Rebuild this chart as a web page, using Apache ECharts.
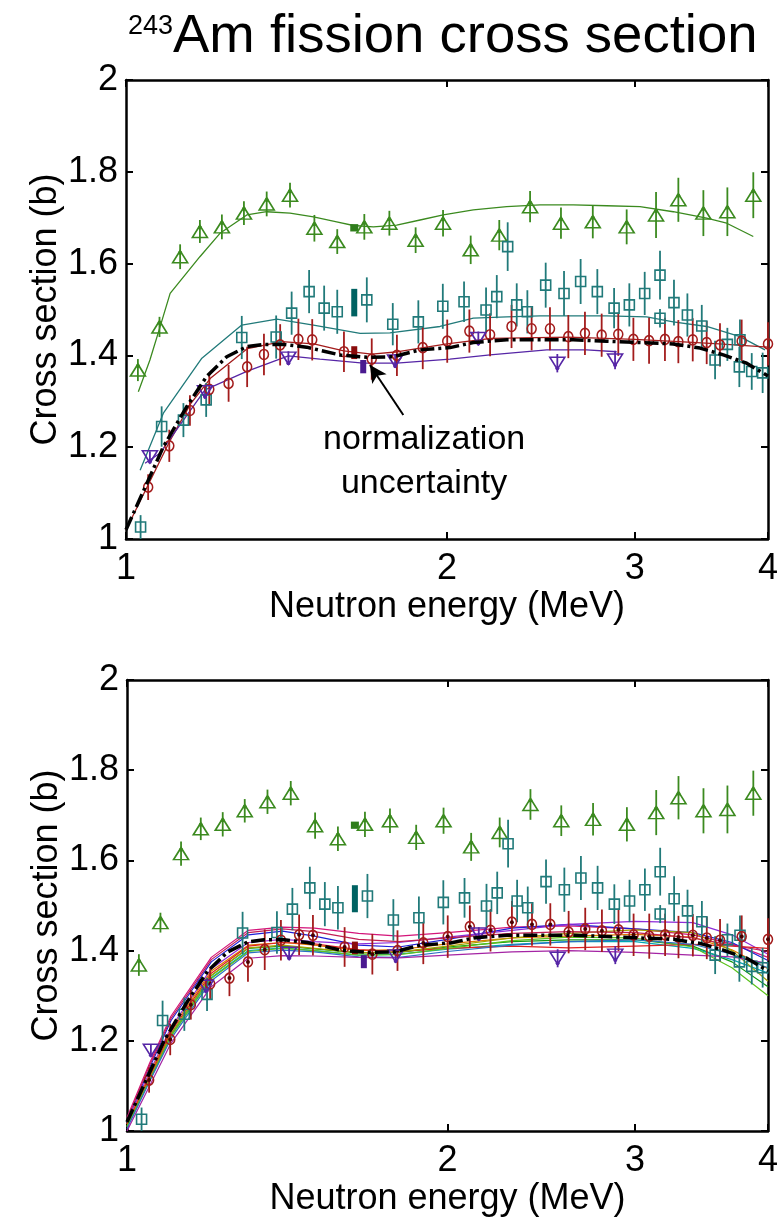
<!DOCTYPE html>
<html><head><meta charset="utf-8">
<script src="https://cdn.jsdelivr.net/npm/echarts@6/dist/echarts.min.js"></script>
<style>html,body{margin:0;padding:0;background:#fff}#chart{width:782px;height:1218px}</style>
</head><body><div id="chart"></div>
<script>
// ---------------- data (energy in MeV, cross section in b) ----------------
const xTickLabels = [1, 2, 3, 4];
const yTickValues = [1, 1.2, 1.4, 1.6, 1.8, 2];

const greenE = [1.026, 1.075, 1.124, 1.173, 1.230, 1.290, 1.355, 1.425, 1.502, 1.578, 1.673, 1.766, 1.869, 1.983, 2.105, 2.239, 2.393, 2.558, 2.740, 2.948, 3.141, 3.296, 3.479, 3.664, 3.875];
const greenY = [1.368, 1.462, 1.615, 1.670, 1.680, 1.710, 1.730, 1.749, 1.677, 1.648, 1.680, 1.688, 1.651, 1.688, 1.630, 1.662, 1.724, 1.688, 1.691, 1.680, 1.706, 1.739, 1.710, 1.713, 1.749];
const greenErr = [0.024, 0.022, 0.027, 0.025, 0.027, 0.026, 0.027, 0.027, 0.029, 0.027, 0.028, 0.027, 0.028, 0.029, 0.031, 0.033, 0.034, 0.034, 0.036, 0.038, 0.050, 0.048, 0.050, 0.053, 0.050];
const greenFitE = [1.027, 1.053, 1.074, 1.100, 1.173, 1.225, 1.298, 1.355, 1.425, 1.499, 1.576, 1.634, 1.706, 1.794, 1.887, 1.984, 2.117, 2.275, 2.445, 2.627, 2.824, 3.034, 3.260, 3.504, 3.659, 3.875];
const greenFitY = [1.321, 1.390, 1.455, 1.535, 1.615, 1.666, 1.706, 1.713, 1.710, 1.702, 1.691, 1.683, 1.680, 1.684, 1.695, 1.706, 1.717, 1.724, 1.728, 1.728, 1.726, 1.724, 1.713, 1.699, 1.688, 1.659];

const tealE = [1.032, 1.080, 1.132, 1.189, 1.284, 1.383, 1.430, 1.485, 1.534, 1.578, 1.682, 1.779, 1.880, 1.982, 2.075, 2.176, 2.227, 2.280, 2.325, 2.379, 2.475, 2.575, 2.669, 2.767, 2.869, 2.965, 3.065, 3.168, 3.168, 3.265, 3.361, 3.467, 3.568, 3.664, 3.760, 3.765, 3.862, 3.954];
const tealY = [1.026, 1.245, 1.259, 1.303, 1.439, 1.440, 1.492, 1.539, 1.503, 1.495, 1.521, 1.468, 1.473, 1.507, 1.517, 1.499, 1.528, 1.637, 1.510, 1.495, 1.553, 1.535, 1.561, 1.539, 1.503, 1.510, 1.535, 1.575, 1.481, 1.515, 1.488, 1.464, 1.390, 1.424, 1.375, 1.434, 1.365, 1.362];
const tealErr = [0.026, 0.044, 0.037, 0.037, 0.047, 0.047, 0.047, 0.047, 0.049, 0.048, 0.049, 0.046, 0.047, 0.049, 0.044, 0.049, 0.047, 0.053, 0.047, 0.047, 0.049, 0.049, 0.049, 0.049, 0.044, 0.047, 0.047, 0.053, 0.020, 0.050, 0.047, 0.046, 0.042, 0.036, 0.044, 0.044, 0.040, 0.044];
const tealFitE = [1.031, 1.084, 1.178, 1.284, 1.385, 1.499, 1.658, 1.768, 1.970, 2.117, 2.275, 2.445, 2.824, 3.078, 3.260, 3.504, 3.765, 3.974];
const tealFitY = [1.150, 1.274, 1.394, 1.466, 1.479, 1.466, 1.448, 1.449, 1.463, 1.481, 1.484, 1.486, 1.486, 1.484, 1.473, 1.463, 1.441, 1.412];

const redE = [1.049, 1.098, 1.148, 1.197, 1.248, 1.299, 1.347, 1.395, 1.451, 1.495, 1.601, 1.700, 1.795, 1.898, 2.001, 2.099, 2.195, 2.299, 2.401, 2.498, 2.599, 2.694, 2.793, 2.895, 2.991, 3.094, 3.202, 3.296, 3.400, 3.504, 3.606, 3.779, 4.000];
const redY = [1.113, 1.203, 1.280, 1.326, 1.339, 1.375, 1.402, 1.423, 1.435, 1.434, 1.408, 1.392, 1.400, 1.417, 1.431, 1.453, 1.445, 1.463, 1.458, 1.458, 1.441, 1.448, 1.444, 1.446, 1.435, 1.432, 1.435, 1.430, 1.434, 1.428, 1.423, 1.431, 1.425];
const redErr = [0.028, 0.035, 0.033, 0.035, 0.040, 0.044, 0.045, 0.045, 0.045, 0.045, 0.044, 0.045, 0.045, 0.047, 0.047, 0.047, 0.047, 0.047, 0.047, 0.047, 0.047, 0.047, 0.047, 0.047, 0.047, 0.050, 0.047, 0.047, 0.047, 0.047, 0.047, 0.047, 0.047];
const redFitE = [1.0, 1.05, 1.1, 1.15, 1.2, 1.3, 1.4, 1.5, 1.6, 1.7, 1.8, 2.0, 2.2, 2.6, 3.0, 3.3, 3.6, 4.0];
const redFitY = [1.02, 1.12, 1.215, 1.295, 1.35, 1.415, 1.43, 1.425, 1.41, 1.403, 1.408, 1.425, 1.437, 1.44, 1.435, 1.43, 1.425, 1.418];

const purpleE = [1.053, 1.186, 1.420, 1.788, 2.140, 2.538, 2.875];
const purpleY = [1.179, 1.321, 1.394, 1.388, 1.437, 1.383, 1.390];
const purpleErr = [0.012, 0.015, 0.015, 0.015, 0.015, 0.020, 0.020];
const purpleFitE = [1.042, 1.076, 1.186, 1.298, 1.420, 1.520, 1.669, 1.794, 2.013, 2.195, 2.481, 2.704, 2.885];
const purpleFitY = [1.165, 1.187, 1.325, 1.365, 1.399, 1.392, 1.383, 1.383, 1.392, 1.401, 1.412, 1.412, 1.408];

const evalE = [1.0, 1.046, 1.084, 1.140, 1.190, 1.243, 1.298, 1.345, 1.405, 1.477, 1.587, 1.682, 1.781, 1.887, 2.013, 2.117, 2.275, 2.627, 2.824, 3.034, 3.260, 3.454, 3.632, 3.820, 4.0];
const evalY = [1.02, 1.121, 1.201, 1.288, 1.354, 1.397, 1.419, 1.424, 1.424, 1.418, 1.401, 1.396, 1.397, 1.412, 1.417, 1.428, 1.434, 1.434, 1.431, 1.428, 1.425, 1.416, 1.401, 1.383, 1.355];

// normalization uncertainty bars: green, teal, red, purple
const normE = [1.637, 1.637, 1.637, 1.669];
const normLow = [1.670, 1.485, 1.392, 1.361];
const normHigh = [1.686, 1.545, 1.420, 1.390];

// ensemble of fitted curves (bottom panel)
const ensE = [1.0, 1.05, 1.1, 1.2, 1.3, 1.4, 1.5, 1.65, 1.8, 2.0, 2.3, 2.6, 3.0, 3.4, 3.7, 4.0];
const ens1 = [1.030, 1.150, 1.255, 1.385, 1.445, 1.452, 1.450, 1.438, 1.432, 1.440, 1.452, 1.455, 1.448, 1.435, 1.415, 1.385];
const ens2 = [1.020, 1.140, 1.245, 1.375, 1.435, 1.443, 1.432, 1.412, 1.408, 1.425, 1.450, 1.458, 1.448, 1.440, 1.418, 1.378];
const ens3 = [1.020, 1.130, 1.230, 1.360, 1.418, 1.425, 1.420, 1.415, 1.418, 1.430, 1.445, 1.458, 1.465, 1.462, 1.435, 1.392];
const ens4 = [1.010, 1.115, 1.215, 1.345, 1.405, 1.410, 1.404, 1.395, 1.396, 1.408, 1.420, 1.424, 1.424, 1.410, 1.375, 1.320];
const ens5 = [1.010, 1.115, 1.212, 1.340, 1.400, 1.406, 1.400, 1.390, 1.392, 1.403, 1.414, 1.420, 1.420, 1.405, 1.380, 1.350];
const ens6 = [1.015, 1.125, 1.225, 1.355, 1.412, 1.418, 1.412, 1.400, 1.402, 1.415, 1.428, 1.432, 1.436, 1.430, 1.402, 1.360];
const ens7 = [1.015, 1.120, 1.220, 1.350, 1.410, 1.418, 1.415, 1.402, 1.398, 1.405, 1.410, 1.406, 1.410, 1.414, 1.410, 1.405];
const ens8 = [1.010, 1.115, 1.215, 1.345, 1.406, 1.412, 1.405, 1.395, 1.397, 1.410, 1.428, 1.438, 1.446, 1.440, 1.400, 1.332];
const ens9 = [1.010, 1.112, 1.210, 1.338, 1.398, 1.405, 1.400, 1.390, 1.391, 1.405, 1.422, 1.430, 1.428, 1.408, 1.362, 1.300];
const ens10 = [1.005, 1.110, 1.205, 1.333, 1.395, 1.401, 1.397, 1.386, 1.385, 1.398, 1.412, 1.420, 1.424, 1.414, 1.392, 1.362];
const ens11 = [1.000, 1.100, 1.195, 1.320, 1.383, 1.389, 1.388, 1.385, 1.384, 1.390, 1.397, 1.400, 1.396, 1.390, 1.386, 1.372];
const ens12 = [1.025, 1.145, 1.250, 1.380, 1.440, 1.448, 1.442, 1.425, 1.420, 1.428, 1.438, 1.442, 1.440, 1.428, 1.412, 1.398];
const ensCurves = [ens1, ens2, ens3, ens4, ens5, ens6, ens7, ens8, ens9, ens10, ens11, ens12];

// annotation anchor (data coordinates)
const annotTextE = 1.9036, annotTextY = 1.168;
const arrowFromE = 1.820, arrowFromY = 1.270, arrowToE = 1.6935, arrowToY = 1.379;

// ---------------- styles ----------------
const FONT = "'Liberation Sans', Arial, Helvetica, sans-serif";
const C_GREEN = '#3b8a1f', C_TEAL = '#217a7a', C_RED = '#a31c1c', C_PURPLE = '#5626a6';
const NORM_COLORS = ['#2f7d1c', '#006262', '#8a0c0c', '#4a1a90'];
const NORM_W = [8, 6, 6, 6];
const ENS_COLORS = ['#d4157a', '#1f1fd6', '#8e2bd8', '#119911', '#00a6b4', '#de7a00', '#e02020', '#a3a300', '#5cc21c', '#2b6fc4', '#a424a4', '#c21f55'];

const L = v => Math.log10(v);
const xMax = L(4);
const xTicks = xTickLabels.map(L);
const pts = (E, Y) => E.map((e, i) => [L(e), Y[i]]);

function xAxesFor(gi) {
  const line = {show: true, onZero: false, lineStyle: {color: '#000', width: 2.5}};
  const tick = {show: true, inside: true, length: 7, customValues: xTicks, lineStyle: {color: '#000', width: 2}};
  return [
    {type: 'value', gridIndex: gi, min: 0, max: xMax, position: 'bottom', axisLine: line, axisTick: tick,
     axisLabel: {customValues: xTicks, formatter: v => String(Math.round(Math.pow(10, v))), fontSize: 36, color: '#000', fontFamily: FONT, margin: 12},
     splitLine: {show: false},
     name: 'Neutron energy (MeV)', nameLocation: 'middle', nameGap: 50, nameMoveOverlap: false,
     nameTextStyle: {fontSize: 36, color: '#000', fontFamily: FONT}},
    {type: 'value', gridIndex: gi, min: 0, max: xMax, position: 'top', axisLine: line, axisTick: tick,
     axisLabel: {show: false}, splitLine: {show: false}}
  ];
}
function yAxesFor(gi) {
  const line = {show: true, onZero: false, lineStyle: {color: '#000', width: 2.5}};
  const tick = {show: true, inside: true, length: 7, lineStyle: {color: '#000', width: 2}};
  return [
    {type: 'value', gridIndex: gi, min: 1, max: 2, interval: 0.2, position: 'left', axisLine: line, axisTick: tick,
     axisLabel: {formatter: v => String(Math.round(v * 10) / 10), fontSize: 36, color: '#000', fontFamily: FONT, margin: 8},
     splitLine: {show: false},
     name: 'Cross section (b)', nameLocation: 'middle', nameGap: 62, nameMoveOverlap: false,
     nameTextStyle: {fontSize: 36, color: '#000', fontFamily: FONT}},
    {type: 'value', gridIndex: gi, min: 1, max: 2, interval: 0.2, position: 'right', axisLine: line, axisTick: tick,
     axisLabel: {show: false}, splitLine: {show: false}}
  ];
}

function errSeries(E, Y, Err, color, ai) {
  return {type: 'custom', xAxisIndex: ai, yAxisIndex: ai, z: 3, silent: true,
    data: E.map((e, i) => [L(e), Y[i] - Err[i], Y[i] + Err[i]]),
    encode: {x: 0, y: [1, 2]},
    renderItem: (params, api) => {
      const a = api.coord([api.value(0), api.value(1)]);
      const b = api.coord([api.value(0), api.value(2)]);
      return {type: 'line', shape: {x1: a[0], y1: a[1], x2: b[0], y2: b[1]}, style: {stroke: color, lineWidth: 1.8}};
    }};
}
function markerSeries(E, Y, color, symbol, size, rot, ai) {
  return {type: 'scatter', xAxisIndex: ai, yAxisIndex: ai, z: 4, silent: true, clip: false,
    data: pts(E, Y), symbol, symbolSize: size, symbolRotate: rot || 0,
    itemStyle: {color: 'rgba(0,0,0,0)', borderColor: color, borderWidth: 1.6, opacity: 1}};
}
function dotSeries(E, Y, color, offset, ai) {
  return {type: 'scatter', xAxisIndex: ai, yAxisIndex: ai, z: 4, silent: true, clip: false,
    data: pts(E, Y), symbol: 'circle', symbolSize: 4, symbolOffset: offset,
    itemStyle: {color, opacity: 1}};
}
function lineSeries(E, Y, color, width, ai, type, z) {
  return {type: 'line', xAxisIndex: ai, yAxisIndex: ai, z: z || 2, silent: true,
    data: pts(E, Y), showSymbol: false, symbol: 'none',
    lineStyle: {color, width, type: type || 'solid'}};
}
function normSeries(ai) {
  return {type: 'custom', xAxisIndex: ai, yAxisIndex: ai, z: 4, silent: true,
    data: normE.map((e, i) => [L(e), normLow[i], normHigh[i], i]),
    encode: {x: 0, y: [1, 2]},
    renderItem: (params, api) => {
      const k = api.value(3);
      const a = api.coord([api.value(0), api.value(1)]);
      const b = api.coord([api.value(0), api.value(2)]);
      const w = NORM_W[k];
      return {type: 'rect', shape: {x: a[0] - w / 2, y: b[1], width: w, height: a[1] - b[1]}, style: {fill: NORM_COLORS[k]}};
    }};
}

function dataLayers(ai, bottom) {
  const s = [];
  s.push(errSeries(tealE, tealY, tealErr, C_TEAL, ai));
  s.push(errSeries(greenE, greenY, greenErr, C_GREEN, ai));
  s.push(errSeries(redE, redY, redErr, C_RED, ai));
  s.push(errSeries(purpleE, purpleY, purpleErr, C_PURPLE, ai));
  s.push(markerSeries(greenE, greenY, C_GREEN, 'triangle', [15, 12], 0, ai));
  s.push(dotSeries(greenE, greenY, C_GREEN, [0, -4], ai));
  s.push(markerSeries(tealE, tealY, C_TEAL, 'rect', [10, 10], 0, ai));
  s.push(markerSeries(redE, redY, C_RED, 'circle', [9, 10], 0, ai));
  if (bottom) s.push(dotSeries(redE, redY, '#4a0000', [0, 0], ai));
  s.push(markerSeries(purpleE, purpleY, C_PURPLE, 'triangle', [15, 12], 180, ai));
  s.push(dotSeries(purpleE, purpleY, C_PURPLE, [0, 5], ai));
  s.push(normSeries(ai));
  return s;
}

const series = [];
// top panel fits
series.push(lineSeries(greenFitE, greenFitY, C_GREEN, 1.3, 0));
series.push(lineSeries(tealFitE, tealFitY, C_TEAL, 1.3, 0));
series.push(lineSeries(redFitE, redFitY, C_RED, 1.3, 0));
series.push(lineSeries(purpleFitE, purpleFitY, C_PURPLE, 1.3, 0));
dataLayers(0, false).forEach(x => series.push(x));
series.push(lineSeries(evalE, evalY, '#000', 3.5, 0, [14, 4, 3, 4], 6));
// annotation text + arrow (top panel)
series.push({type: 'scatter', xAxisIndex: 0, yAxisIndex: 0, z: 7, silent: true, clip: false,
  data: [[L(annotTextE), annotTextY]], symbolSize: 0, itemStyle: {opacity: 1},
  label: {show: true, position: 'inside', formatter: 'normalization\nuncertainty', fontSize: 34, lineHeight: 44, color: '#000', fontFamily: FONT, opacity: 1},
  markLine: {silent: true, symbol: ['none', 'arrow'], symbolSize: [13, 17], animation: false,
    lineStyle: {color: '#000', width: 2, type: 'solid', opacity: 1}, label: {show: false},
    data: [[{coord: [L(arrowFromE), arrowFromY]}, {coord: [L(arrowToE), arrowToY]}]]}});
// bottom panel ensemble
ensCurves.forEach((c, i) => series.push(lineSeries(ensE, c, ENS_COLORS[i], 1.2, 2)));
dataLayers(2, true).forEach(x => series.push(x));
series.push(lineSeries(evalE, evalY, '#000', 3.5, 2, [14, 4, 3, 4], 6));

const option = {
  animation: false,
  backgroundColor: '#fff',
  grid: [
    {left: 126, top: 80, width: 642, height: 459},
    {left: 127, top: 680, width: 641, height: 457}
  ],
  xAxis: [...xAxesFor(0), ...xAxesFor(1)],
  yAxis: [...yAxesFor(0), ...yAxesFor(1)],
  graphic: [
    {type: 'text', left: 128, top: 13, style: {text: '243', fontSize: 27, fontFamily: FONT, fill: '#000'}},
    {type: 'text', left: 173, top: 9, style: {text: 'Am fission cross section', fontSize: 54.5, fontFamily: FONT, fill: '#000'}}
  ],
  series
};
const chart = echarts.init(document.getElementById('chart'), null, {renderer: 'canvas'});
chart.setOption(option);
</script></body></html>
